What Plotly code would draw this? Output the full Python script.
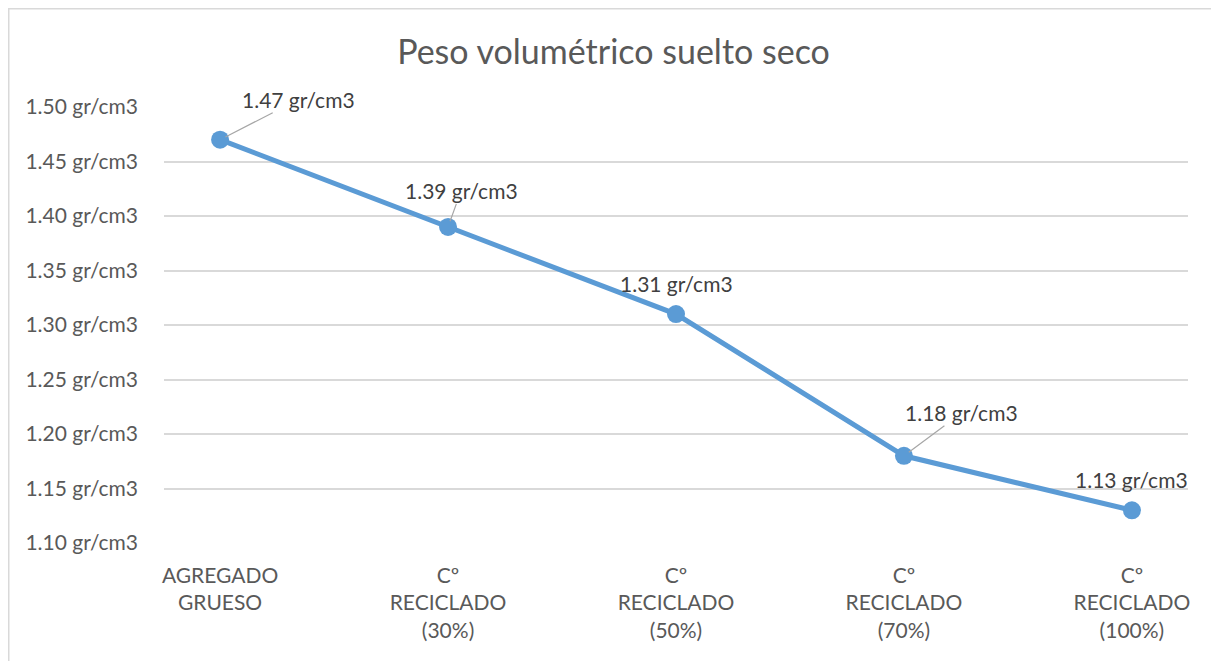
import plotly.graph_objects as go

categories = ["AGREGADO<br>GRUESO", "Cº<br>RECICLADO<br>(30%)", "Cº<br>RECICLADO<br>(50%)",
              "Cº<br>RECICLADO<br>(70%)", "Cº<br>RECICLADO<br>(100%)"]
peso = [1.47, 1.39, 1.31, 1.18, 1.13]
y_ticks = [1.10, 1.15, 1.20, 1.25, 1.30, 1.35, 1.40, 1.45, 1.50]

# label offsets (px) and whether Excel drew a leader line
label_offsets = [(78, -40), (13, -36), (0, -31), (58, -43), (0, -31)]
leaders = [True, True, False, True, False]

FONT = "Lato"
x_idx = list(range(len(categories)))

fig = go.Figure(go.Scatter(
    x=x_idx, y=peso, mode="lines+markers",
    line=dict(color="#5B9BD5", width=5),
    marker=dict(color="#5B9BD5", size=18),
    hoverinfo="skip", showlegend=False,
))

for i, v in enumerate(peso):
    dx, dy = label_offsets[i]
    txt = f"{v:.2f} gr/cm3"
    if leaders[i]:
        fig.add_annotation(x=i, y=v, text=txt, showarrow=True, arrowhead=0,
                           arrowwidth=1.2, arrowcolor="#A6A6A6", ax=dx, ay=dy,
                           standoff=6, borderpad=0,
                           font=dict(family=FONT, size=21, color="#404040"))
    else:
        fig.add_annotation(x=i, y=v, text=txt, showarrow=False,
                           xshift=dx, yshift=-dy,
                           font=dict(family=FONT, size=21, color="#404040"))

# chart border
fig.add_shape(type="rect", xref="paper", yref="paper",
              x0=-0.1516, x1=1.0283, y0=-0.3, y1=1.2253,
              line=dict(color="#D9D9D9", width=1.5), layer="below")

fig.update_layout(
    width=1211, height=653,
    margin=dict(l=156, r=31, t=99, b=118),
    paper_bgcolor="white", plot_bgcolor="white",
    title=dict(text="Peso volumétrico suelto seco", x=0.5, xanchor="center",
               xref="container", y=0.9326, yanchor="middle",
               font=dict(family=FONT, size=34, color="#595959")),
    xaxis=dict(tickmode="array", tickvals=x_idx, ticktext=categories,
               range=[-0.246, 4.246], showgrid=False, zeroline=False,
               showline=False, ticks="", ticklabelstandoff=18,
               tickfont=dict(family=FONT, size=21, color="#595959")),
    yaxis=dict(range=[1.10, 1.50], tickvals=y_ticks,
               ticktext=[f"{t:.2f} gr/cm3" for t in y_ticks],
               showgrid=True, gridcolor="#D9D9D9", gridwidth=1.5,
               zeroline=False, showline=False, ticks="", ticklabelstandoff=25,
               tickfont=dict(family=FONT, size=21, color="#595959")),
    font=dict(family=FONT),
)

fig.write_html("out.html")
